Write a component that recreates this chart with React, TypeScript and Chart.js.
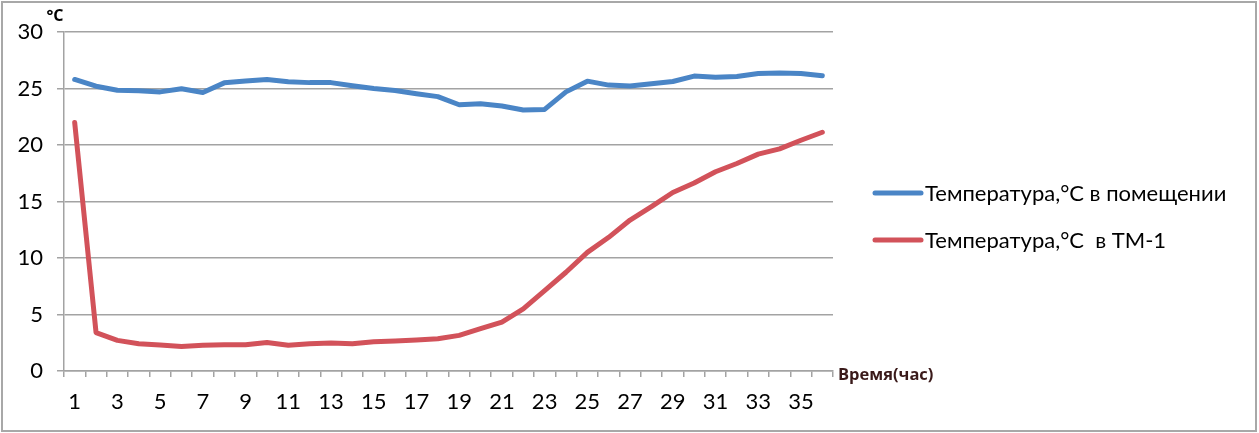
import React, { useEffect, useRef } from "react";
import { Chart, registerables } from "chart.js";

Chart.register(...registerables);

const hours: string[] = [
  "1", "2", "3", "4", "5", "6", "7", "8", "9", "10", "11", "12",
  "13", "14", "15", "16", "17", "18", "19", "20", "21", "22", "23", "24",
  "25", "26", "27", "28", "29", "30", "31", "32", "33", "34", "35", "36",
];

const roomTemp: number[] = [
  25.8, 25.2, 24.85, 24.8, 24.7, 24.98, 24.65, 25.5, 25.66, 25.8, 25.6, 25.52,
  25.52, 25.25, 25.0, 24.83, 24.54, 24.28, 23.56, 23.66, 23.45, 23.1, 23.15, 24.7,
  25.65, 25.3, 25.22, 25.42, 25.62, 26.1, 26.0, 26.06, 26.32, 26.37, 26.33, 26.13,
];

const tm1Temp: number[] = [
  22.0, 3.4, 2.71, 2.42, 2.3, 2.17, 2.27, 2.33, 2.33, 2.53, 2.27, 2.42,
  2.47, 2.42, 2.59, 2.65, 2.74, 2.85, 3.15, 3.74, 4.33, 5.5, 7.12, 8.74,
  10.5, 11.83, 13.36, 14.54, 15.8, 16.63, 17.63, 18.36, 19.19, 19.66, 20.42, 21.13,
];

const seriesNames: string[] = [
  "Температура,°C в помещении",
  "Температура,°C  в ТМ-1",
];

const yTicks: number[] = [0, 5, 10, 15, 20, 25, 30];
const yUnit = "°C";
const xTitle = "Время(час)";

const FONT = "Lato, 'Open Sans', 'DejaVu Sans', sans-serif";
const BOLD_FONT = "'Open Sans', 'DejaVu Sans', sans-serif";
const BLUE = "#4a85c6";
const RED = "#d2525a";
const GRID = "#a3a3a3";

const framePlugin = {
  id: "frame",
  beforeDraw(chart: any) {
    const { ctx, width, height } = chart;
    ctx.save();
    ctx.fillStyle = "#ffffff";
    ctx.fillRect(0, 0, width, height);
    ctx.strokeStyle = "#a8a8a8";
    ctx.lineWidth = 2;
    ctx.strokeRect(2, 2, width - 5, height - 4);
    ctx.restore();
  },
};

const titlesPlugin = {
  id: "titles",
  afterDraw(chart: any) {
    const { ctx, chartArea } = chart;
    ctx.save();
    ctx.fillStyle = "#000000";
    ctx.font = `bold 16px ${BOLD_FONT}`;
    ctx.textAlign = "center";
    ctx.textBaseline = "middle";
    ctx.fillText(yUnit, chartArea.left - 9, chartArea.top - 16);
    ctx.fillStyle = "#3a1a1a";
    ctx.font = `bold 16.5px ${BOLD_FONT}`;
    ctx.textAlign = "left";
    ctx.fillText(xTitle, chartArea.right + 5, chartArea.bottom + 4);
    ctx.restore();
  },
};

const legendPlugin = {
  id: "sideLegend",
  afterDraw(chart: any) {
    const { ctx, chartArea, height } = chart;
    const x0 = chartArea.right + 42;
    const gap = 47;
    const cy = height / 2;
    ctx.save();
    chart.data.datasets.forEach((ds: any, i: number) => {
      const y = cy + (i - 0.5) * gap;
      ctx.strokeStyle = ds.borderColor;
      ctx.lineWidth = 5;
      ctx.lineCap = "round";
      ctx.beginPath();
      ctx.moveTo(x0, y);
      ctx.lineTo(x0 + 46, y);
      ctx.stroke();
      ctx.fillStyle = "#000000";
      ctx.font = `22px ${FONT}`;
      ctx.textAlign = "left";
      ctx.textBaseline = "middle";
      ctx.fillText(ds.label, x0 + 50, y + 1);
    });
    ctx.restore();
  },
};

export default function App() {
  const canvasRef = useRef<HTMLCanvasElement | null>(null);

  useEffect(() => {
    document.body.style.margin = "0";
    const canvas = canvasRef.current;
    if (!canvas) return;
    const chart = new Chart(canvas, {
      type: "line",
      data: {
        labels: hours,
        datasets: [
          {
            label: seriesNames[0],
            data: roomTemp,
            borderColor: BLUE,
            backgroundColor: BLUE,
            borderWidth: 5,
            pointRadius: 0,
            tension: 0,
            borderJoinStyle: "round",
            borderCapStyle: "round",
          },
          {
            label: seriesNames[1],
            data: tm1Temp,
            borderColor: RED,
            backgroundColor: RED,
            borderWidth: 5,
            pointRadius: 0,
            tension: 0,
            borderJoinStyle: "round",
            borderCapStyle: "round",
          },
        ],
      },
      options: {
        animation: false,
        responsive: true,
        maintainAspectRatio: false,
        layout: { padding: { top: 32, right: 426, bottom: 0, left: 0 } },
        plugins: {
          legend: { display: false },
          tooltip: { enabled: false },
        },
        scales: {
          x: {
            type: "category",
            offset: true,
            grid: {
              offset: true,
              drawOnChartArea: false,
              drawTicks: true,
              tickLength: 6,
              color: GRID,
              lineWidth: 1.5,
            },
            border: { display: true, color: GRID, width: 1.5 },
            ticks: {
              autoSkip: false,
              maxRotation: 0,
              minRotation: 0,
              padding: 12,
              color: "#000000",
              font: { family: FONT, size: 22 },
              callback: function (this: any, value: any, index: number) {
                return index % 2 === 0 ? hours[index] : "";
              },
            },
            afterFit(scale: any) {
              scale.height = 62;
            },
          },
          y: {
            min: yTicks[0],
            max: yTicks[yTicks.length - 1],
            afterBuildTicks(scale: any) {
              scale.ticks = yTicks.map((v) => ({ value: v }));
            },
            grid: {
              color: GRID,
              lineWidth: 1.5,
              drawTicks: true,
              tickLength: 7,
            },
            border: { display: true, color: GRID, width: 1.5 },
            ticks: {
              padding: 14,
              color: "#000000",
              font: { family: FONT, size: 22 },
            },
            afterFit(scale: any) {
              scale.width = 64;
            },
          },
        },
      },
      plugins: [framePlugin, titlesPlugin, legendPlugin],
    });
    return () => chart.destroy();
  }, []);

  return (
    <div style={{ position: "relative", width: 1259, height: 433 }}>
      <canvas ref={canvasRef} />
    </div>
  );
}
